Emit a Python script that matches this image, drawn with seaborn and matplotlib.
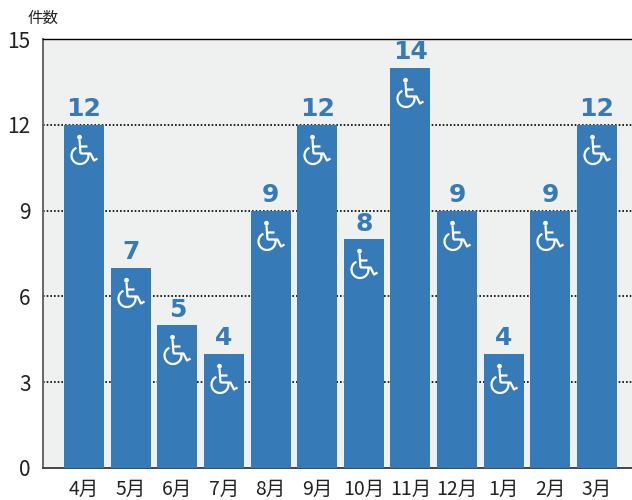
import pandas as pd
import matplotlib
matplotlib.use('Agg')
import matplotlib.pyplot as plt
import seaborn as sns
import numpy as np
from matplotlib.path import Path

months = ['4月', '5月', '6月', '7月', '8月', '9月', '10月', '11月', '12月', '1月', '2月', '3月']
counts = [12, 7, 5, 4, 9, 12, 8, 14, 9, 4, 9, 12]
y_ticks = [0, 3, 6, 9, 12, 15]

BLUE = '#367ab8'
W, H = 632, 500
L, R, T, B = 43, 632, 39, 468


def wheelchair_paths():
    # pixel units, origin at top centre of the bar
    t = np.radians(np.linspace(115, 375, 40))
    wheel = np.column_stack([-4.5 + 8.5 * np.cos(t), -30 + 8.5 * np.sin(t)])
    parts = [wheel,
             np.array([[-5, -14], [-4, -28]]),
             np.array([[-4, -21], [3, -21]]),
             np.array([[-4, -28], [6, -28], [9.5, -35], [13, -33]])]
    verts, codes = [], []
    for p in parts:
        verts.extend(p.tolist())
        codes.extend([Path.MOVETO] + [Path.LINETO] * (len(p) - 1))
    body = Path(verts, codes)
    t = np.linspace(0, 2 * np.pi, 24)
    head = Path(np.column_stack([-5 + 2.4 * np.cos(t), -11.7 + 2.4 * np.sin(t)]))
    return body, head


sns.set_theme(style='white')
plt.rcParams['font.family'] = ['Noto Sans CJK JP', 'DejaVu Sans']

df = pd.DataFrame({'month': months, 'count': counts})
fig = plt.figure(figsize=(W / 100, H / 100), dpi=100)
ax = fig.add_axes([L / W, 1 - B / H, (R - L) / W, (B - T) / H])
ax.set_facecolor('#eff0f0')

sns.barplot(data=df, x='month', y='count', color=BLUE, saturation=1, width=0.858,
            linewidth=0, edgecolor='none', ax=ax, zorder=3)

step = 46.64
ax.set_xlim(-41 / step, 11 + 35 / step)
ax.set_ylim(0, 15)
ax.set_yticks(y_ticks)
ax.set_xlabel('')
ax.set_ylabel('')
ax.tick_params(axis='x', length=0, labelsize=14, pad=8, labelcolor='#222222')
ax.tick_params(axis='y', length=0, labelsize=15, pad=9, labelcolor='#222222')

ax.grid(False)
for v in y_ticks[1:-1]:
    ax.axhline(v, color='black', lw=1.2, ls=(0, (1, 1.2)), zorder=2)

ax.spines['right'].set_visible(False)
ax.spines['top'].set_color('black')
ax.spines['top'].set_linewidth(1.0)
ax.spines['left'].set_color('#666666')
ax.spines['left'].set_linewidth(1.4)
ax.spines['bottom'].set_color('#444444')
ax.spines['bottom'].set_linewidth(1.4)

body, head = wheelchair_paths()
px = 72 / 100
for i, c in enumerate(counts):
    ax.text(i, c + 0.12, str(c), ha='center', va='bottom', color=BLUE, fontsize=18,
            fontweight='bold', family=['DejaVu Sans'], zorder=5)
    ax.plot([i], [c], marker=body, ms=2 * 38.5 * px, mfc='none', mec='white', mew=1.6, zorder=4, ls='none')
    ax.plot([i], [c], marker=head, ms=2 * 14.1 * px, mfc='white', mec='white', mew=0, zorder=4, ls='none')

fig.text(27 / W, 1 - 18 / H, '件数', fontsize=11.2, color='#222222', va='center', ha='left')

fig.savefig('out.png', dpi=100)
